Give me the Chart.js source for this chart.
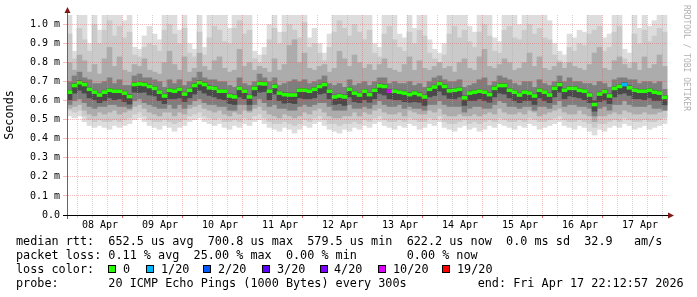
<!DOCTYPE html>
<html><head><meta charset="utf-8">
<script src="https://cdn.jsdelivr.net/npm/chart.js@4.4.1/dist/chart.umd.min.js"></script>
<style>
html,body{margin:0;padding:0;background:#fff;}
#wrap{position:relative;width:697px;height:297px;overflow:hidden;background:#fff;}
#c{position:absolute;left:0;top:0;}
.t{position:absolute;font-family:'DejaVu Sans Mono',monospace;font-size:11.8px;line-height:14px;white-space:pre;color:#000;margin:0;}
.box{position:absolute;top:265px;width:8px;height:8px;box-sizing:border-box;border:1px solid #000;}
#wm{position:absolute;left:682px;top:5px;writing-mode:vertical-rl;font-family:'DejaVu Sans Mono',monospace;font-size:8px;line-height:9px;color:#b0b0b0;white-space:pre;}
</style></head>
<body><div id="wrap">
<canvas id="c" width="697" height="240"></canvas>
<div id="wm">RRDTOOL / TOBI OETIKER</div>
<pre class="t" style="left:16px;top:234px">median rtt:  652.5 us avg  700.8 us max  579.5 us min  622.2 us now  0.0 ms sd  32.9   am/s</pre>
<pre class="t" style="left:16px;top:248px">packet loss: 0.11 % avg  25.00 % max  0.00 % min       0.00 % now</pre>
<pre class="t" style="left:16px;top:262px">loss color:</pre>
<div class="box" style="left:108px;background:#26ff00"></div><pre class="t" style="left:123px;top:262px">0</pre>
<div class="box" style="left:146px;background:#00b8ff"></div><pre class="t" style="left:161px;top:262px">1/20</pre>
<div class="box" style="left:203px;background:#0059ff"></div><pre class="t" style="left:218px;top:262px">2/20</pre>
<div class="box" style="left:262px;background:#5e00ff"></div><pre class="t" style="left:277px;top:262px">3/20</pre>
<div class="box" style="left:320px;background:#7e00ff"></div><pre class="t" style="left:334px;top:262px">4/20</pre>
<div class="box" style="left:378px;background:#dd00ff"></div><pre class="t" style="left:393px;top:262px">10/20</pre>
<div class="box" style="left:442px;background:#ff0000"></div><pre class="t" style="left:457px;top:262px">19/20</pre>
<pre class="t" style="left:16px;top:276px">probe:       20 ICMP Echo Pings (1000 Bytes) every 300s          end: Fri Apr 17 22:12:57 2026</pre>
</div>
<script>
// ---- data (ms) ----
const dayLabels = ['08 Apr','09 Apr','10 Apr','11 Apr','12 Apr','13 Apr','14 Apr','15 Apr','16 Apr','17 Apr'];
const yTickLabels = ['0.0','0.1 m','0.2 m','0.3 m','0.4 m','0.5 m','0.6 m','0.7 m','0.8 m','0.9 m','1.0 m'];
const firstColHour = -0.2;   // hours since 08 Apr 00:00 (column centre)
const colStepHours = 2;

const med = [0.645,0.680,0.695,0.685,0.660,0.645,0.630,0.645,0.655,0.650,
 0.650,0.640,0.622,0.685,0.688,0.685,0.675,0.665,0.645,0.625,
 0.655,0.650,0.660,0.635,0.655,0.680,0.695,0.685,0.668,0.665,
 0.650,0.650,0.625,0.620,0.665,0.650,0.620,0.665,0.690,0.688,
 0.650,0.675,0.640,0.632,0.630,0.630,0.655,0.655,0.650,0.660,
 0.675,0.685,0.650,0.620,0.625,0.620,0.660,0.640,0.630,0.650,
 0.632,0.655,0.678,0.675,0.650,0.650,0.645,0.640,0.632,0.640,
 0.632,0.620,0.660,0.672,0.690,0.675,0.652,0.655,0.660,0.615,
 0.640,0.645,0.650,0.645,0.632,0.665,0.680,0.680,0.655,0.645,
 0.630,0.645,0.640,0.625,0.655,0.645,0.630,0.665,0.685,0.655,
 0.665,0.665,0.655,0.650,0.630,0.580,0.635,0.648,0.625,0.665,
 0.675,0.685,0.668,0.655,0.650,0.650,0.655,0.645,0.640,0.618];

const lossCols = [64, 111];
const lossCounts = [10, 1];
const lossColors = {0:'#26ff00',1:'#00b8ff',2:'#0059ff',3:'#5e00ff',4:'#7e00ff',10:'#dd00ff',19:'#ff0000'};

const hi1 = [1.05,0.86,1.05,1.05,0.90,1.05,0.97,1.05,1.05,1.05,
 1.05,1.02,1.05,0.88,0.87,0.94,0.99,0.95,0.92,1.05,
 1.05,1.05,0.97,1.05,0.90,0.87,1.05,0.88,1.05,1.05,
 1.05,1.05,0.98,1.05,1.05,1.05,1.05,0.86,0.84,0.88,
 1.00,1.05,0.96,1.05,1.05,1.05,1.05,1.05,0.93,0.98,
 0.90,0.85,0.95,1.05,1.05,1.05,1.05,1.05,1.05,1.05,
 1.05,0.90,0.88,1.05,1.05,1.05,0.95,0.93,1.05,0.98,
 1.05,1.05,0.92,0.87,0.85,0.90,1.05,1.05,1.05,1.05,
 0.99,0.96,1.05,1.05,1.05,0.93,0.91,1.05,1.05,1.05,
 1.00,1.05,1.05,1.05,1.05,1.05,1.02,0.90,0.86,0.84,
 0.95,0.93,0.97,0.96,1.05,1.05,1.05,0.93,0.95,1.05,
 1.05,0.87,0.85,1.05,0.98,1.05,0.99,1.02,1.05,1.05];
const lo1 = [0.52,0.51,0.52,0.49,0.47,0.46,0.47,0.46,0.45,0.47,
 0.46,0.47,0.48,0.50,0.51,0.49,0.47,0.46,0.45,0.47,
 0.46,0.44,0.46,0.47,0.49,0.50,0.51,0.49,0.48,0.47,
 0.48,0.46,0.45,0.47,0.46,0.48,0.47,0.49,0.50,0.48,
 0.46,0.45,0.44,0.46,0.45,0.43,0.45,0.47,0.46,0.48,
 0.49,0.47,0.45,0.44,0.43,0.45,0.44,0.46,0.45,0.47,
 0.46,0.48,0.49,0.47,0.46,0.45,0.47,0.46,0.48,0.47,
 0.45,0.46,0.48,0.47,0.49,0.46,0.45,0.44,0.46,0.47,
 0.45,0.46,0.44,0.45,0.47,0.46,0.48,0.47,0.46,0.45,
 0.47,0.46,0.48,0.47,0.45,0.46,0.47,0.48,0.49,0.47,
 0.46,0.45,0.47,0.46,0.44,0.42,0.45,0.44,0.46,0.47,
 0.46,0.48,0.47,0.45,0.46,0.47,0.45,0.46,0.47,0.48];
const hi2 = [0.95,0.82,0.98,0.92,0.86,1.00,0.90,0.97,1.02,0.94,
 0.99,0.93,0.96,0.84,0.83,0.88,0.90,0.89,0.86,0.97,
 1.00,0.95,0.90,0.98,0.85,0.83,0.96,0.84,0.93,0.99,
 0.97,0.91,0.90,0.98,1.02,0.95,0.97,0.82,0.80,0.84,
 0.92,0.98,0.90,0.96,1.00,0.97,0.93,1.01,0.88,0.90,
 0.85,0.81,0.88,0.96,1.02,0.98,0.94,1.00,0.96,0.92,
 0.97,0.85,0.83,0.95,0.99,0.92,0.88,0.86,0.96,0.90,
 0.97,0.94,0.85,0.82,0.80,0.84,0.95,0.99,0.93,0.97,
 0.91,0.88,0.96,1.00,0.94,0.86,0.85,0.97,0.99,0.93,
 0.92,0.97,1.00,0.95,0.98,0.93,0.92,0.84,0.81,0.80,
 0.88,0.86,0.90,0.89,0.95,0.97,0.99,0.86,0.88,0.96,
 0.99,0.82,0.80,0.95,0.90,0.97,0.91,0.94,0.98,0.96];
const lo2 = [0.55,0.54,0.55,0.52,0.50,0.49,0.50,0.49,0.49,0.50,
 0.49,0.50,0.51,0.53,0.54,0.52,0.50,0.49,0.49,0.50,
 0.49,0.48,0.49,0.50,0.52,0.53,0.54,0.52,0.51,0.50,
 0.51,0.49,0.49,0.50,0.49,0.51,0.50,0.52,0.53,0.51,
 0.49,0.48,0.48,0.49,0.48,0.47,0.48,0.50,0.49,0.51,
 0.52,0.50,0.48,0.48,0.47,0.48,0.48,0.49,0.48,0.50,
 0.49,0.51,0.52,0.50,0.49,0.49,0.50,0.49,0.51,0.50,
 0.49,0.49,0.51,0.50,0.52,0.49,0.48,0.48,0.49,0.50,
 0.48,0.49,0.48,0.49,0.50,0.49,0.51,0.50,0.49,0.49,
 0.50,0.49,0.51,0.50,0.49,0.49,0.50,0.51,0.52,0.50,
 0.49,0.49,0.50,0.49,0.48,0.46,0.48,0.48,0.49,0.50,
 0.49,0.51,0.50,0.49,0.49,0.50,0.49,0.49,0.50,0.51];
const hi3 = [0.80,0.76,0.84,0.81,0.75,0.79,0.74,0.82,0.88,0.78,
 0.83,0.76,0.75,0.79,0.78,0.82,0.76,0.75,0.74,0.80,
 0.86,0.79,0.76,0.83,0.75,0.77,0.85,0.78,0.76,0.81,
 0.83,0.77,0.75,0.76,0.87,0.78,0.80,0.76,0.78,0.77,
 0.75,0.82,0.76,0.79,0.89,0.92,0.80,0.85,0.77,0.76,
 0.78,0.79,0.75,0.77,0.86,0.82,0.78,0.84,0.80,0.77,
 0.79,0.76,0.79,0.82,0.77,0.76,0.75,0.79,0.83,0.76,
 0.81,0.77,0.76,0.78,0.80,0.77,0.78,0.75,0.80,0.82,
 0.77,0.76,0.83,0.87,0.78,0.77,0.79,0.82,0.80,0.76,
 0.77,0.80,0.85,0.78,0.83,0.77,0.76,0.78,0.80,0.77,
 0.80,0.78,0.77,0.76,0.79,0.85,0.88,0.77,0.76,0.81,
 0.83,0.79,0.77,0.80,0.76,0.83,0.77,0.79,0.84,0.78];
const lo3 = [0.56,0.57,0.58,0.55,0.53,0.52,0.54,0.53,0.54,0.55,
 0.53,0.54,0.55,0.57,0.58,0.56,0.54,0.53,0.52,0.54,
 0.54,0.52,0.54,0.53,0.56,0.57,0.58,0.56,0.55,0.54,
 0.55,0.53,0.52,0.54,0.53,0.55,0.54,0.56,0.57,0.55,
 0.53,0.52,0.51,0.53,0.52,0.51,0.52,0.54,0.53,0.55,
 0.56,0.54,0.52,0.51,0.51,0.52,0.52,0.54,0.52,0.54,
 0.53,0.55,0.56,0.54,0.53,0.53,0.54,0.52,0.55,0.54,
 0.53,0.53,0.55,0.54,0.56,0.53,0.52,0.52,0.53,0.52,
 0.52,0.53,0.52,0.53,0.54,0.53,0.56,0.54,0.53,0.53,
 0.54,0.53,0.55,0.54,0.52,0.53,0.54,0.55,0.56,0.54,
 0.53,0.53,0.55,0.53,0.52,0.49,0.52,0.52,0.53,0.54,
 0.53,0.55,0.54,0.53,0.53,0.54,0.53,0.53,0.54,0.55];
const hi4 = [0.70,0.73,0.75,0.72,0.71,0.69,0.69,0.70,0.72,0.69,
 0.71,0.68,0.68,0.73,0.74,0.72,0.72,0.71,0.70,0.67,
 0.71,0.69,0.71,0.68,0.70,0.72,0.75,0.72,0.71,0.71,
 0.70,0.70,0.68,0.67,0.72,0.69,0.68,0.70,0.74,0.72,
 0.70,0.72,0.68,0.69,0.70,0.71,0.70,0.71,0.69,0.70,
 0.71,0.73,0.69,0.68,0.69,0.67,0.71,0.68,0.69,0.70,
 0.68,0.70,0.72,0.72,0.69,0.70,0.69,0.69,0.70,0.68,
 0.69,0.67,0.70,0.72,0.73,0.71,0.70,0.70,0.71,0.67,
 0.68,0.69,0.71,0.72,0.68,0.70,0.73,0.72,0.71,0.69,
 0.68,0.70,0.70,0.67,0.71,0.69,0.68,0.70,0.73,0.70,
 0.72,0.70,0.70,0.69,0.69,0.68,0.70,0.69,0.67,0.71,
 0.72,0.72,0.71,0.71,0.69,0.70,0.70,0.69,0.70,0.66];
const lo4 = [0.58,0.60,0.61,0.59,0.57,0.56,0.57,0.57,0.58,0.58,
 0.57,0.57,0.56,0.60,0.61,0.59,0.58,0.57,0.56,0.56,
 0.58,0.56,0.58,0.56,0.58,0.60,0.61,0.59,0.58,0.58,
 0.57,0.57,0.55,0.55,0.58,0.58,0.55,0.58,0.61,0.59,
 0.57,0.58,0.56,0.56,0.55,0.55,0.57,0.58,0.57,0.58,
 0.59,0.59,0.57,0.55,0.55,0.55,0.58,0.56,0.56,0.57,
 0.56,0.58,0.60,0.58,0.57,0.57,0.58,0.56,0.57,0.56,
 0.56,0.55,0.58,0.58,0.60,0.58,0.57,0.57,0.57,0.54,
 0.56,0.57,0.57,0.56,0.56,0.58,0.60,0.59,0.57,0.57,
 0.56,0.57,0.57,0.55,0.57,0.57,0.56,0.58,0.60,0.57,
 0.58,0.58,0.57,0.57,0.56,0.52,0.56,0.57,0.55,0.58,
 0.58,0.60,0.58,0.57,0.57,0.57,0.58,0.56,0.56,0.55];
const hi5 = [0.655,0.690,0.705,0.695,0.670,0.655,0.640,0.655,0.665,0.660,
 0.660,0.650,0.632,0.695,0.698,0.695,0.685,0.675,0.655,0.635,
 0.665,0.660,0.670,0.645,0.665,0.690,0.705,0.695,0.678,0.675,
 0.660,0.660,0.635,0.630,0.675,0.660,0.630,0.675,0.700,0.698,
 0.660,0.685,0.650,0.642,0.640,0.640,0.665,0.665,0.660,0.670,
 0.685,0.695,0.660,0.630,0.635,0.630,0.670,0.650,0.640,0.660,
 0.642,0.665,0.688,0.685,0.660,0.660,0.655,0.650,0.642,0.650,
 0.642,0.630,0.670,0.682,0.700,0.685,0.662,0.665,0.670,0.625,
 0.650,0.655,0.660,0.655,0.642,0.675,0.690,0.690,0.665,0.655,
 0.640,0.655,0.650,0.635,0.665,0.655,0.640,0.675,0.695,0.665,
 0.675,0.675,0.665,0.660,0.640,0.600,0.645,0.658,0.635,0.675,
 0.685,0.695,0.678,0.665,0.660,0.660,0.665,0.655,0.650,0.628];
const lo5 = [0.605,0.640,0.655,0.640,0.615,0.605,0.590,0.600,0.615,0.605,
 0.610,0.595,0.582,0.645,0.643,0.645,0.630,0.625,0.600,0.585,
 0.610,0.610,0.615,0.595,0.615,0.635,0.655,0.640,0.628,0.620,
 0.610,0.605,0.585,0.580,0.620,0.610,0.580,0.625,0.645,0.648,
 0.605,0.635,0.600,0.587,0.590,0.585,0.615,0.610,0.610,0.615,
 0.635,0.640,0.610,0.580,0.585,0.575,0.620,0.595,0.590,0.605,
 0.592,0.610,0.638,0.630,0.610,0.605,0.605,0.595,0.592,0.595,
 0.592,0.575,0.620,0.627,0.650,0.630,0.612,0.610,0.620,0.575,
 0.600,0.600,0.610,0.600,0.592,0.620,0.640,0.635,0.615,0.600,
 0.590,0.600,0.600,0.580,0.615,0.600,0.590,0.620,0.645,0.610,
 0.625,0.620,0.615,0.605,0.590,0.545,0.595,0.603,0.585,0.620,
 0.635,0.640,0.628,0.610,0.610,0.605,0.615,0.600,0.600,0.578];

// ---- chart ----
const colX = med.map((_, i) => firstColHour + i * colStepHours);
const MONO = "'DejaVu Sans Mono', monospace";
const MAJOR = 'rgba(225,80,80,0.38)';
const MINOR = 'rgba(170,170,170,0.5)';

function band(lo, hi, color, order) {
  return {
    type: 'bar',
    data: lo.map((l, i) => ({x: colX[i], y: [l, hi[i]]})),
    backgroundColor: color, borderWidth: 0,
    barPercentage: 1, categoryPercentage: 1, grouped: false, order
  };
}
function lossColor(n) {
  const keys = Object.keys(lossColors).map(Number).sort((a, b) => a - b);
  let c = lossColors[0];
  keys.forEach(k => { if (n >= k) c = lossColors[k]; });
  return c;
}
const medColors = med.map((_, i) => {
  const k = lossCols.indexOf(i);
  return lossColor(k < 0 ? 0 : lossCounts[k]);
});

const datasets = [
  {
    type: 'bar',
    data: med.map((v, i) => ({x: colX[i], y: [v - 0.0078, v + 0.0078]})),
    backgroundColor: medColors, borderWidth: 0,
    barPercentage: 1, categoryPercentage: 1, grouped: false, order: 0
  },
  band(lo5, hi5, '#4a4a4a', 1),
  band(lo4, hi4, '#7e7e7e', 2),
  band(lo3, hi3, '#acacac', 3),
  band(lo2, hi2, '#cacaca', 4),
  band(lo1, hi1, '#dddddd', 5)
];

const axisArrows = {
  id: 'axisArrows',
  afterDraw(chart) {
    const {ctx, chartArea: a} = chart;
    ctx.save();
    ctx.lineWidth = 1;
    ctx.strokeStyle = '#666';
    ctx.beginPath();
    ctx.moveTo(a.left + 0.5, a.top - 3); ctx.lineTo(a.left + 0.5, a.bottom + 4);
    ctx.stroke();
    ctx.strokeStyle = '#000';
    ctx.beginPath();
    ctx.moveTo(a.left - 4, a.bottom + 0.5); ctx.lineTo(a.right + 2, a.bottom + 0.5);
    ctx.stroke();
    ctx.fillStyle = '#801818';
    ctx.beginPath();
    ctx.moveTo(a.left + 0.5, a.top - 8); ctx.lineTo(a.left - 2.5, a.top - 2); ctx.lineTo(a.left + 3.5, a.top - 2);
    ctx.closePath(); ctx.fill();
    ctx.beginPath();
    ctx.moveTo(a.right + 6, a.bottom + 0.5); ctx.lineTo(a.right, a.bottom - 2.5); ctx.lineTo(a.right, a.bottom + 3.5);
    ctx.closePath(); ctx.fill();
    ctx.restore();
  }
};

new Chart(document.getElementById('c'), {
  type: 'bar',
  data: {datasets},
  plugins: [axisArrows],
  options: {
    responsive: false, animation: false, devicePixelRatio: 1,
    layout: {padding: {top: 15, right: 29, left: 0, bottom: 0}},
    plugins: {legend: {display: false}, tooltip: {enabled: false}},
    scales: {
      x: {
        type: 'linear', min: -1.2, max: 239.2, offset: false,
        afterFit(s) { s.height = 25; },
        ticks: {
          stepSize: 6, includeBounds: false, autoSkip: false, maxRotation: 0, minRotation: 0,
          padding: 1, color: '#000', font: {family: MONO, size: 10},
          callback: v => (v % 24 === 12 ? dayLabels[(v - 12) / 24] : '')
        },
        grid: {
          z: 1, lineWidth: 1, tickLength: 3,
          color: c => (c.tick && c.tick.value % 24 === 0 ? MAJOR : MINOR),
          tickColor: c => (c.tick && c.tick.value % 24 === 0 ? 'rgba(220,60,60,0.8)' : MINOR)
        },
        border: {display: true, color: '#000', width: 1, dash: [1, 1], z: 1}
      },
      y: {
        type: 'linear', min: 0, max: 1.05,
        afterFit(s) { s.width = 67; },
        ticks: {
          stepSize: 0.1, includeBounds: false, padding: 3, color: '#000',
          font: {family: MONO, size: 10},
          callback: v => yTickLabels[Math.round(v * 10)]
        },
        grid: {
          z: 1, lineWidth: 1, tickLength: 4,
          color: c => (c.tick && c.tick.value === 0 ? 'rgba(0,0,0,0)' : MAJOR),
          tickColor: c => (c.tick && c.tick.value === 0 ? '#000' : MAJOR)
        },
        border: {display: true, color: '#666', width: 1, dash: [1, 1], z: 1},
        title: {display: true, text: 'Seconds', color: '#000', font: {family: MONO, size: 11.8}, padding: {top: 3, bottom: 0}}
      }
    }
  }
});
</script>
</body></html>
